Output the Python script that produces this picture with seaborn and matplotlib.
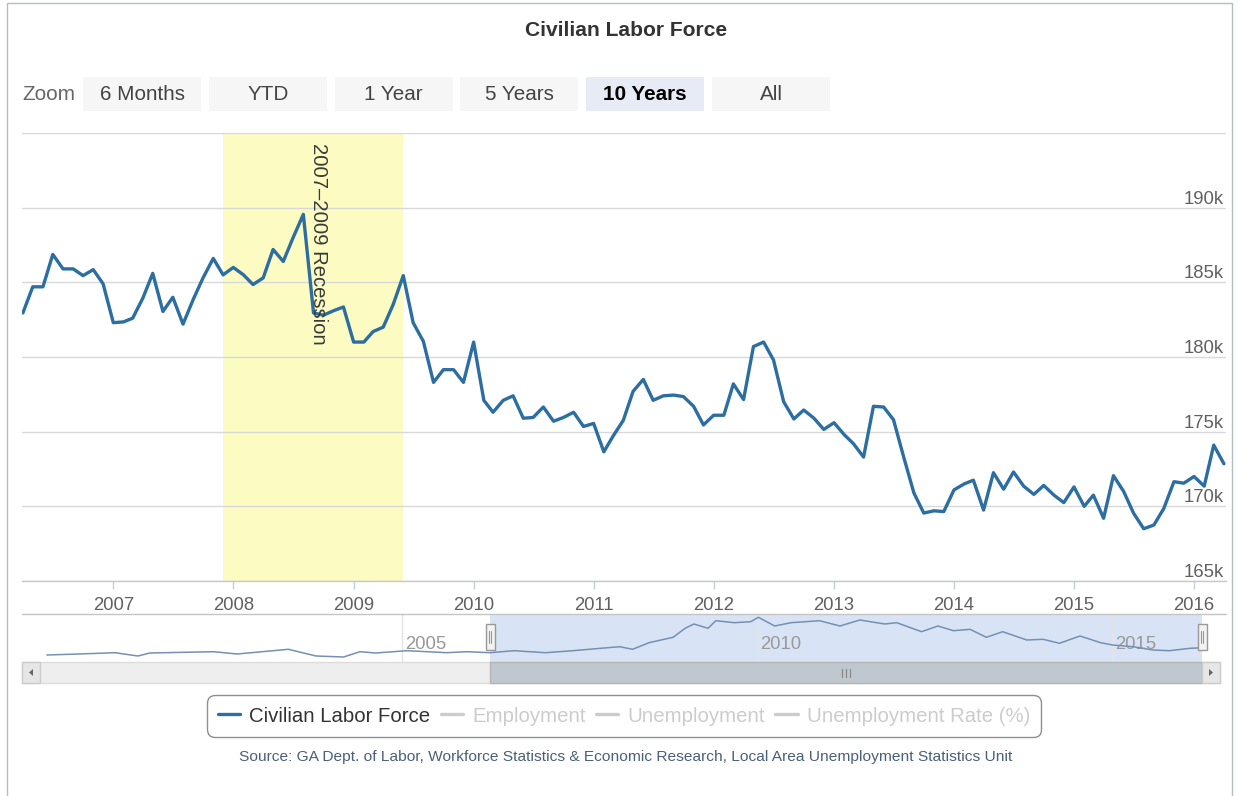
import numpy as np
import pandas as pd
import matplotlib
matplotlib.use("Agg")
import matplotlib.pyplot as plt
import matplotlib.dates as mdates
from matplotlib.patches import Rectangle, Polygon
from matplotlib.lines import Line2D
from matplotlib.transforms import ScaledTranslation, blended_transform_factory
import seaborn as sns

# ---------------- data ----------------
title = "Civilian Labor Force"
source_text = ("Source: GA Dept. of Labor, Workforce Statistics & Economic Research, "
               "Local Area Unemployment Statistics Unit")
series_start = "2006-04-01"          # first monthly observation
clf_2006 = [182.95, 184.7, 184.7, 186.87, 185.9, 185.9, 185.45, 185.85, 184.9]   # Apr-Dec
clf_2007 = [182.3, 182.35, 182.6, 183.95, 185.6, 183.05, 184.0, 182.2, 183.85, 185.3, 186.6, 185.5]
clf_2008 = [186.0, 185.5, 184.85, 185.3, 187.2, 186.4, 188.0, 189.55, 182.95, 182.8, 183.1, 183.35]
clf_2009 = [181.0, 181.0, 181.7, 182.0, 183.5, 185.45, 182.3, 181.05, 178.3, 179.15, 179.15, 178.3]
clf_2010 = [181.0, 177.1, 176.3, 177.1, 177.4, 175.9, 175.95, 176.65, 175.7, 175.95, 176.3, 175.35]
clf_2011 = [175.55, 173.65, 174.7, 175.75, 177.7, 178.5, 177.1, 177.4, 177.45, 177.35, 176.7, 175.45]
clf_2012 = [176.1, 176.1, 178.2, 177.15, 180.7, 181.0, 179.8, 177.0, 175.85, 176.45, 175.9, 175.15]
clf_2013 = [175.6, 174.8, 174.2, 173.3, 176.7, 176.65, 175.8, 173.3, 170.9, 169.55, 169.7, 169.65]
clf_2014 = [171.1, 171.5, 171.75, 169.75, 172.25, 171.15, 172.3, 171.35, 170.8, 171.4, 170.75, 170.25]
clf_2015 = [171.3, 170.0, 170.75, 169.2, 172.05, 171.0, 169.55, 168.5, 168.75, 169.85, 171.65, 171.55]
clf_2016 = [172.0, 171.35, 174.1, 172.85]                                           # Jan-Apr

recession_start = "2007-12-01"
recession_end = "2009-06-01"
recession_label = "2007\u20132009 Recession"

# navigator (overview) series, decimal year vs relative height
nav_years = [2000.0, 2000.45, 2000.96, 2001.28, 2001.45, 2002.35, 2002.68, 2003.40, 2003.79,
             2004.18, 2004.41, 2004.63, 2005.07, 2005.63, 2005.91, 2006.24, 2006.58, 2007.02,
             2007.41, 2007.80, 2008.07, 2008.25, 2008.48, 2008.82, 2008.99, 2009.11, 2009.31,
             2009.42, 2009.68, 2009.91, 2010.02, 2010.25, 2010.48, 2010.88, 2011.17, 2011.45,
             2011.80, 2011.97, 2012.32, 2012.55, 2012.77, 2013.0, 2013.23, 2013.46, 2013.80,
             2014.03, 2014.26, 2014.55, 2014.84, 2015.01, 2015.30, 2015.58, 2015.81, 2016.10,
             2016.21]
nav_values = [5, 6, 7.3, 4, 7, 8.3, 6, 10.7, 4,
              3, 8.3, 7, 9.3, 7.3, 8.3, 7.3, 9.3, 7.3,
              9.3, 11.7, 13.3, 10.7, 17.3, 22.7, 31.7, 36, 31.7,
              39.3, 37.3, 38.3, 42.7, 34, 37.3, 39.3, 34, 40,
              36, 37.3, 28.3, 34, 29.3, 30.7, 22.7, 28.3, 20,
              20.7, 16.7, 24, 17.3, 15, 13.3, 10, 9.3, 11.7,
              12]
nav_selection_start = "2006-04-01"
nav_year_ticks = [2005, 2010, 2015]

ytick_values = [165, 170, 175, 180, 185, 190, 195]
ytick_labels = ["165k", "170k", "175k", "180k", "185k", "190k", ""]
zoom_buttons = ["6 Months", "YTD", "1 Year", "5 Years", "10 Years", "All"]
selected_button = "10 Years"
legend_labels = ["Civilian Labor Force", "Employment", "Unemployment", "Unemployment Rate (%)"]

# ---------------- style ----------------
W, H = 1238, 796
LINE = "#2c6ea1"
GRID = "#d8d8d8"
LABEL = "#606060"

sns.set_theme(style="white")
plt.rcParams["font.family"] = ["Liberation Sans", "DejaVu Sans"]

fig = plt.figure(figsize=(W / 100, H / 100), dpi=100, facecolor="white")
renderer = fig.canvas.get_renderer()


def fx(px):
    return px / W


def fy(py):
    return 1 - py / H


def axes_px(x0, y0, x1, y1):
    return fig.add_axes([fx(x0), fy(y1), (x1 - x0) / W, (y1 - y0) / H])


def rect_px(x0, y0, x1, y1, **kw):
    r = Rectangle((fx(x0), fy(y1)), (x1 - x0) / W, (y1 - y0) / H,
                  transform=fig.transFigure, **kw)
    fig.add_artist(r)
    return r


def line_px(xs, ys, **kw):
    l = Line2D([fx(x) for x in xs], [fy(y) for y in ys], transform=fig.transFigure, **kw)
    fig.add_artist(l)
    return l


def fit(t, target, vertical=False):
    for _ in range(3):
        bb = t.get_window_extent(renderer)
        cur = bb.height if vertical else bb.width
        t.set_fontsize(t.get_fontsize() * target / cur)


# pixel -> date number helpers (calibrated to the reference layout)
def main_date(px):
    return mdates.date2num(pd.Timestamp("2007-01-01")) + (px - 113.3) / 0.32878


def nav_date(px):
    return mdates.date2num(pd.Timestamp("2005-01-01")) + (px - 402.0) / 0.19439


# outer frame
rect_px(7, 3, 1232, 805, fill=False, ec="#b4bcc4", lw=1)

# ---------------- main chart ----------------
values = (clf_2006 + clf_2007 + clf_2008 + clf_2009 + clf_2010 + clf_2011 +
          clf_2012 + clf_2013 + clf_2014 + clf_2015 + clf_2016)
df = pd.DataFrame({"date": pd.date_range(series_start, periods=len(values), freq="MS"),
                   "value": values})

ax = axes_px(22, 133, 1226, 581)
ax.set_facecolor("white")
ax.axvspan(mdates.date2num(pd.Timestamp(recession_start)),
           mdates.date2num(pd.Timestamp(recession_end)),
           color="#fbfbc2", lw=0, zorder=0)
sns.lineplot(data=df, x="date", y="value", ax=ax, color=LINE, lw=2.4, legend=False, zorder=3)

ax.set_xlim(main_date(22), main_date(1226))
ax.set_ylim(165, 195)
ax.set_xlabel("")
ax.set_ylabel("")
ax.set_yticks(ytick_values)
ax.set_yticklabels(ytick_labels)
ax.yaxis.tick_right()
ax.tick_params(axis="y", length=0, pad=-1.5, labelsize=13.3, labelcolor=LABEL)
for t in ax.yaxis.get_major_ticks():
    t.label2.set_horizontalalignment("right")
    t.label2.set_verticalalignment("bottom")
ax.grid(True, axis="y", color=GRID, lw=1)
ax.grid(False, axis="x")
ax.xaxis.set_major_locator(mdates.YearLocator())
ax.xaxis.set_major_formatter(mdates.DateFormatter("%Y"))
ax.tick_params(axis="x", direction="out", length=5.5, width=1, color="#c0d0e0",
               labelsize=13.3, labelcolor=LABEL, pad=6, bottom=True)
for s in ["top", "left", "right"]:
    ax.spines[s].set_visible(False)
ax.spines["bottom"].set_color("#c8c8c8")
ax.spines["bottom"].set_linewidth(1)

mid = mdates.date2num(pd.Timestamp(recession_start)) + \
    (mdates.date2num(pd.Timestamp(recession_end)) - mdates.date2num(pd.Timestamp(recession_start))) / 2
rt = ax.text(mid, 0.978, recession_label, rotation=270, ha="center", va="top",
             color="#3a3a3a", fontsize=13,
             transform=blended_transform_factory(ax.transData, ax.transAxes)
             + ScaledTranslation(5 / 100, 0, fig.dpi_scale_trans), zorder=4)
fit(rt, 202, vertical=True)

# ---------------- navigator ----------------
def dec_to_date(y):
    yr = int(y)
    return pd.Timestamp(yr, 1, 1) + pd.Timedelta(days=(y - yr) * 365.25)


nav_df = pd.DataFrame({"date": [dec_to_date(y) for y in nav_years], "value": nav_values})
nav = axes_px(40, 614, 1202, 662)
nav.set_facecolor("white")
nav.axvspan(mdates.date2num(pd.Timestamp(nav_selection_start)), nav_date(1202),
            color="#d8e4f5", lw=0, zorder=0)
sns.lineplot(data=nav_df, x="date", y="value", ax=nav, color="#7590b2", lw=1.1,
             legend=False, zorder=3)
nav.set_xlim(nav_date(40), nav_date(1202))
nav.set_ylim(-2, 46)
nav.set_yticks([])
nav.set_xlabel("")
nav.set_ylabel("")
nav.set_xticks([mdates.date2num(pd.Timestamp(y, 1, 1)) for y in nav_year_ticks])
nav.set_xticklabels([str(y) for y in nav_year_ticks])
nav.tick_params(axis="x", length=0, pad=-19, labelsize=13.3, labelcolor="#999999")
for lab in nav.get_xticklabels():
    lab.set_horizontalalignment("left")
    lab.set_transform(lab.get_transform() + ScaledTranslation(3 / 100, 0, fig.dpi_scale_trans))
nav.grid(True, axis="x", color="#e4e4e4", lw=1)
for s in nav.spines.values():
    s.set_visible(False)

line_px([22, 1226], [614, 614], color="#c4c4c4", lw=1)

# handles
for hx in [490, 1202]:
    rect_px(hx - 4.5, 624, hx + 4.5, 650, fc="#f2f2f2", ec="#999999", lw=1, zorder=5)
    line_px([hx - 1.2, hx - 1.2], [631, 643], color="#999999", lw=0.8, zorder=6)
    line_px([hx + 1.2, hx + 1.2], [631, 643], color="#999999", lw=0.8, zorder=6)

# scrollbar
rect_px(22, 662, 1220, 683, fc="#eeeeee", ec="#dcdcdc", lw=1)
rect_px(490, 662, 1202, 683, fc="#bfc7cf", ec="#b5b5b5", lw=1)
for gx in [842, 846, 850]:
    line_px([gx, gx], [669, 677], color="#888888", lw=0.9)
rect_px(22, 662, 40, 683, fc="#e6e6e6", ec="#cccccc", lw=1)
rect_px(1202, 662, 1220, 683, fc="#e6e6e6", ec="#cccccc", lw=1)
fig.add_artist(Polygon([(fx(29), fy(672.5)), (fx(33), fy(669)), (fx(33), fy(676))],
                       closed=True, transform=fig.transFigure, fc="#666666", ec="none"))
fig.add_artist(Polygon([(fx(1213), fy(672.5)), (fx(1209), fy(669)), (fx(1209), fy(676))],
                       closed=True, transform=fig.transFigure, fc="#666666", ec="none"))

# ---------------- title, buttons ----------------
tt = fig.text(fx(626), fy(30), title, ha="center", va="center", fontweight="bold",
              color="#333333", fontsize=14)
fit(tt, 202)

zt = fig.text(fx(22), fy(95), "Zoom", ha="left", va="center", color="#666666", fontsize=14)
fit(zt, 53)

btn_x0 = 83
btn_step = 125.8
btn_w = 118
btn_size = None
for i, lab in enumerate(zoom_buttons):
    x0 = btn_x0 + i * btn_step
    sel = lab == selected_button
    rect_px(x0, 77, x0 + btn_w, 111, fc="#e6ebf5" if sel else "#f6f6f6", ec="none")
    bt = fig.text(fx(x0 + btn_w / 2), fy(94), lab, ha="center", va="center",
                  color="#000000" if sel else "#444444",
                  fontweight="bold" if sel else "normal", fontsize=14)
    if i == 0:
        fit(bt, 85)
        btn_size = bt.get_fontsize()
    else:
        bt.set_fontsize(btn_size)

# ---------------- legend ----------------
tmp = fig.text(0, 0, legend_labels[0], fontsize=14)
fit(tmp, 181)
leg_size = tmp.get_fontsize()
tmp.remove()

handles = [Line2D([], [], color=LINE, lw=2.4)] + \
          [Line2D([], [], color="#cccccc", lw=2.4) for _ in legend_labels[1:]]
leg = fig.legend(handles, legend_labels, loc="center", bbox_to_anchor=(fx(624), fy(716)),
                 ncol=len(legend_labels), frameon=True, fancybox=True, fontsize=leg_size,
                 handlelength=1.1, handletextpad=0.45, columnspacing=0.5, borderpad=0.55,
                 edgecolor="#909090", facecolor="white", framealpha=1)
leg.get_frame().set_linewidth(1)
leg.get_frame().set_boxstyle("round,pad=0,rounding_size=0.4")
for i, t in enumerate(leg.get_texts()):
    t.set_color("#333333" if i == 0 else "#cccccc")

# ---------------- source ----------------
st = fig.text(fx(626), fy(757), source_text, ha="center", va="center", color="#4a6078",
              fontsize=10)
fit(st, 768)

fig.savefig("out.png", dpi=100, facecolor="white")
